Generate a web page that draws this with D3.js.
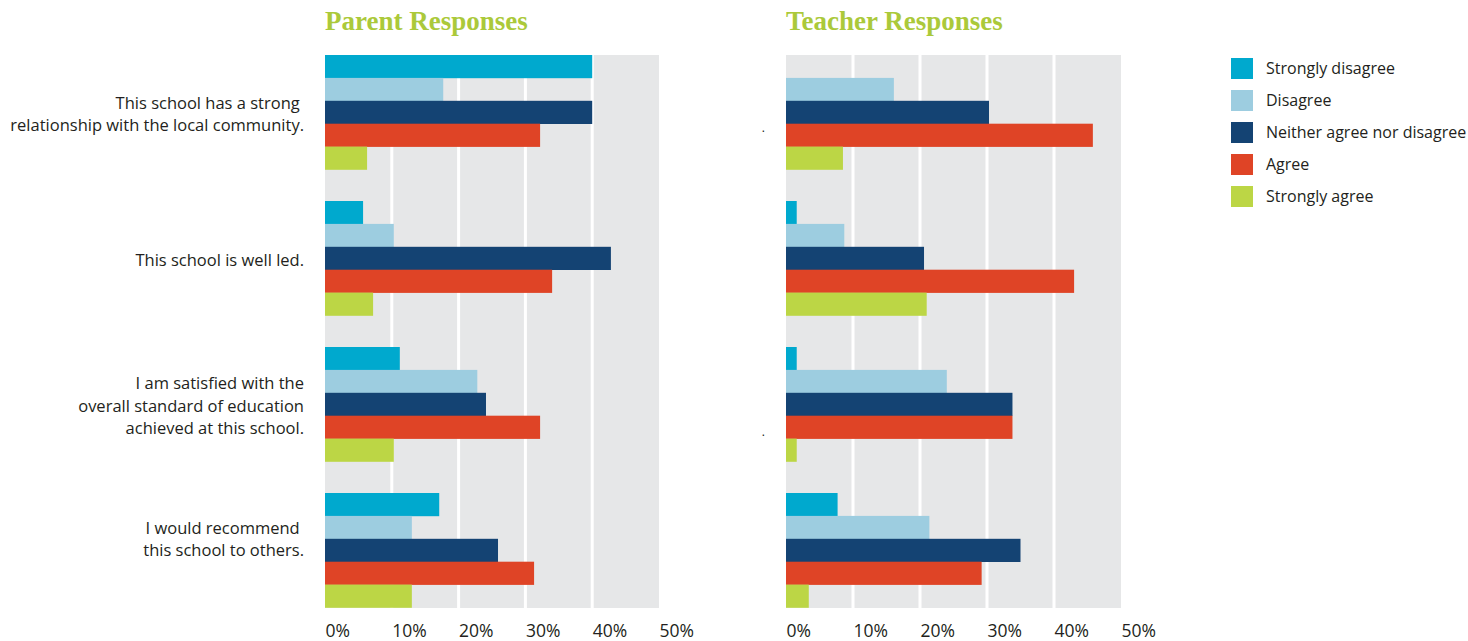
<!DOCTYPE html>
<html>
<head>
<meta charset="utf-8">
<script src="https://cdn.jsdelivr.net/npm/d3@7"></script>
<style>
body { margin: 0; background: #fff; }
text { font-family: "Open Sans", sans-serif; fill: #231f20; }
.title { font-family: "Liberation Serif", serif; font-weight: bold; fill: #abc93a; }
</style>
</head>
<body>
<div id="chart-area"></div>
<script>
let width = 1468,
height = 641;

// data
let questions = [
	["This school has a strong ", "relationship with the local community."],
	["This school is well led."],
	["I am satisfied with the", "overall standard of education", "achieved at this school."],
	["I would recommend ", "this school to others."]
];
let responses = ["Strongly disagree", "Disagree", "Neither agree nor disagree", "Agree", "Strongly agree"];
let colors = ["#00a9ce", "#9dcde0", "#144373", "#df4426", "#bcd645"];
let parentValues = [
	[40, 17.7, 40, 32.2, 6.3],
	[5.7, 10.3, 42.8, 34, 7.2],
	[11.2, 22.8, 24.1, 32.2, 10.3],
	[17.1, 13, 25.9, 31.3, 13]
];
let teacherValues = [
	[0, 16.1, 30.3, 45.8, 8.5],
	[1.6, 8.7, 20.6, 43, 21],
	[1.6, 24, 33.8, 33.8, 1.6],
	[7.7, 21.4, 35, 29.2, 3.4]
];
let tickValues = [0, 10, 20, 30, 40, 50];

let svg = d3.select("#chart-area").append("svg")
	.attr("width", width)
	.attr("height", height);

let plotTop = 55, plotBottom = 608;

let y = d3.scaleBand()
	.domain(d3.range(questions.length))
	.range([plotTop, plotBottom + 31])
	.paddingInner(0)
	.paddingOuter(0);

let bandInner = 114.5;
let barH = bandInner / responses.length;
// the last label sits a bit higher than its group centre
let labelShift = [0, 0, 0, -13];

function panel(title, values, x0, x1, showLabels) {
	let x = d3.scaleLinear().domain([0, 50]).range([x0, x1]);
	let g = svg.append("g");

	g.append("text")
		.attr("class", "title")
		.attr("x", x0)
		.attr("y", 30)
		.attr("font-size", 27)
		.text(title);

	// grey background
	g.append("rect")
		.attr("x", x(0))
		.attr("y", plotTop)
		.attr("width", x(50) - x(0))
		.attr("height", plotBottom - plotTop)
		.attr("fill", "#e6e7e8");

	// white gridlines
	g.selectAll(".grid")
		.data(tickValues.slice(1, -1))
		.enter().append("rect")
		.attr("x", d => x(d) - 1.5)
		.attr("y", plotTop)
		.attr("width", 3)
		.attr("height", plotBottom - plotTop)
		.attr("fill", "#fff");

	// bars
	values.forEach(function(row, i) {
		g.selectAll(".bar" + i)
			.data(row)
			.enter().append("rect")
			.attr("x", x(0))
			.attr("y", (d, j) => y(i) + j * barH)
			.attr("width", d => x(d) - x(0))
			.attr("height", barH + 0.3)
			.attr("fill", (d, j) => colors[j]);
	});

	// axis labels
	let axis = d3.axisBottom(x).tickValues(tickValues).tickFormat(d => d + "%").tickSize(0);
	let ax = g.append("g")
		.attr("transform", "translate(0," + 622 + ")")
		.call(axis);
	ax.select(".domain").remove();
	ax.selectAll("text")
		.attr("text-anchor", "start")
		.attr("dx", 0)
		.attr("font-size", 17.5)
		.attr("font-family", "Open Sans, sans-serif")
		.attr("fill", "#231f20");

	if (showLabels) {
		questions.forEach(function(lines, i) {
			let cy = y(i) + bandInner / 2 + 2 + labelShift[i];
			let lh = 22.5;
			let t = g.append("text")
				.attr("text-anchor", "end")
				.attr("font-size", 16.5)
				.attr("xml:space", "preserve");
			lines.forEach(function(l, k) {
				t.append("tspan")
					.attr("x", 304)
					.attr("y", cy + (k - (lines.length - 1) / 2) * lh + 5.5)
					.text(l);
			});
		});
	}
	return x;
}

panel("Parent Responses", parentValues, 325, 659, true);
panel("Teacher Responses", teacherValues, 786, 1121, false);

// stray full stops left in the teacher panel
svg.selectAll(".dot")
	.data([132, 436])
	.enter().append("text")
	.attr("x", 765)
	.attr("y", d => d)
	.attr("text-anchor", "end")
	.attr("font-size", 12)
	.text(".");

// legend
let legend = svg.selectAll(".legend")
	.data(responses)
	.enter().append("g")
	.attr("transform", (d, i) => "translate(1231," + (58 + i * 32) + ")");

legend.append("rect")
	.attr("width", 22)
	.attr("height", 21)
	.attr("fill", (d, i) => colors[i]);

legend.append("text")
	.attr("x", 35)
	.attr("y", 16)
	.attr("font-size", 16)
	.text(d => d);
</script>
</body>
</html>
